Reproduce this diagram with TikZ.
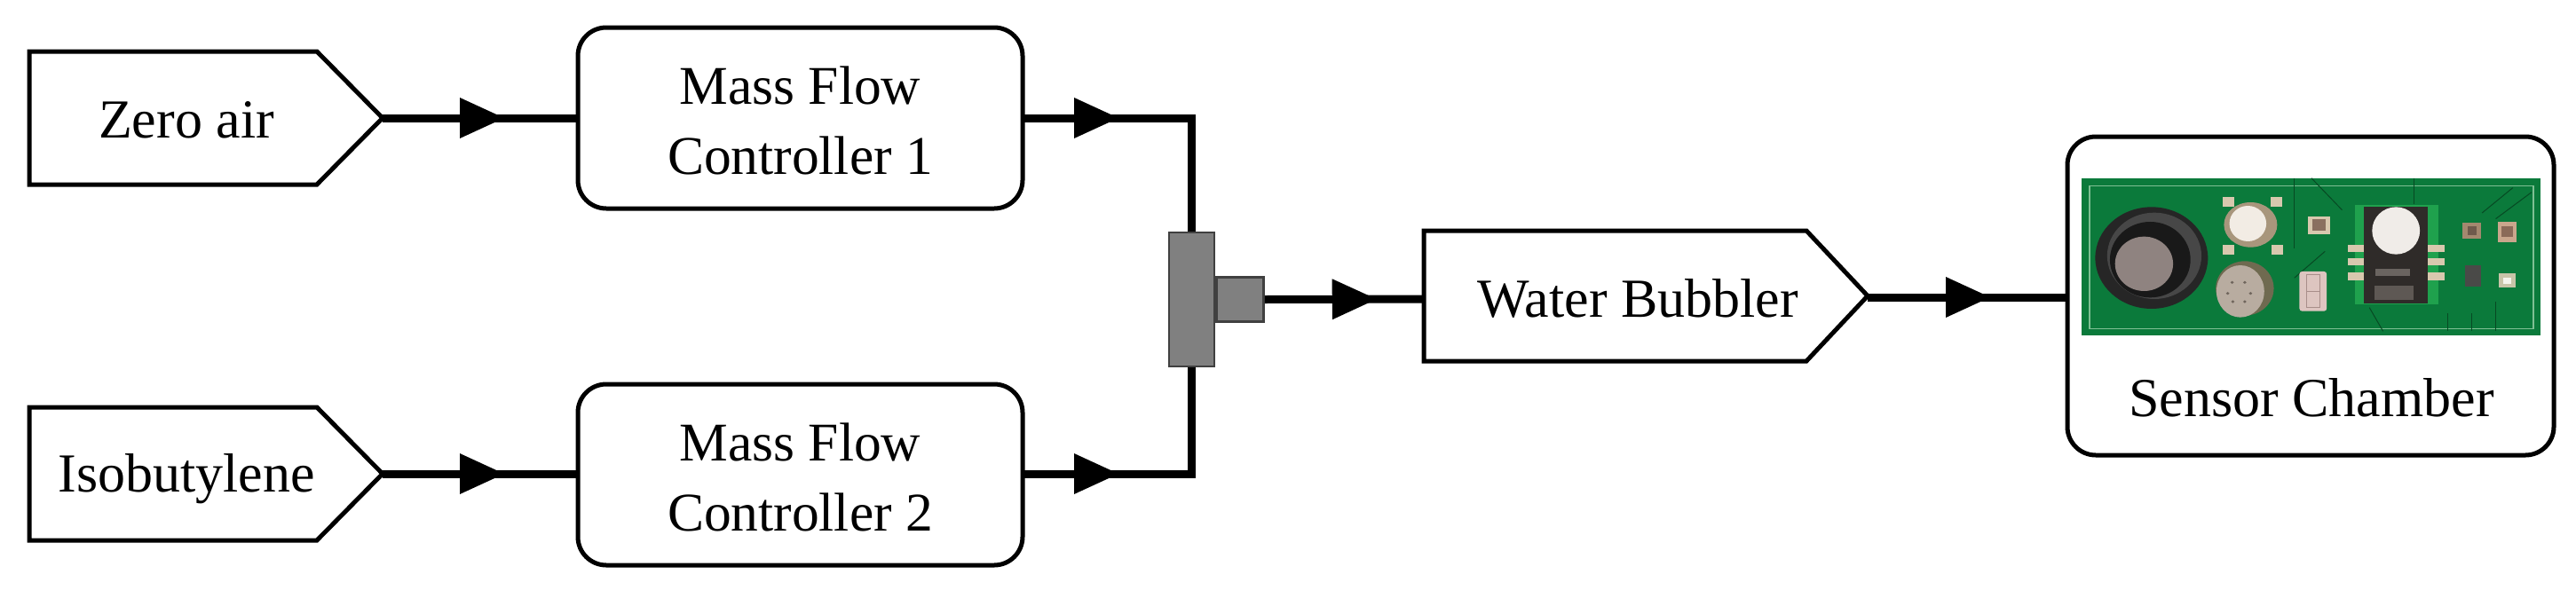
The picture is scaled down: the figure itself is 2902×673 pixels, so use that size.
\documentclass[tikz,border=0pt]{standalone}
\usepackage{fontspec}
\setmainfont{Liberation Serif}
\usetikzlibrary{decorations.markings,calc}
\tikzset{
  lbl/.style={font=\fontsize{62}{78}\selectfont,align=center,inner sep=0pt},
  shapeline/.style={draw=black,line width=5pt,fill=white,line join=miter},
  ctrl/.style={shapeline,rounded corners=32pt,minimum width=501pt,minimum height=204pt,inner sep=0pt,align=center},
  ctrltext/.style={font=\fontsize{61.5}{79}\selectfont,align=center,inner sep=0pt},
  chamber/.style={shapeline,rounded corners=32pt,minimum width=548pt,minimum height=359pt,inner sep=0pt},
  junction/.style={draw=black!75,line width=2.5pt,fill=black!50,inner sep=0pt},
  pipe/.style={draw=black,line width=9pt},
  flowmark/.style={decoration={markings,mark=at position #1 with {\fill[black] (0pt,-23pt) -- (50pt,0pt) -- (0pt,23pt) -- cycle;}},postaction=decorate}
}
\definecolor{pcb}{HTML}{0B7A3B}
\definecolor{pcbline}{HTML}{7FBF93}
\definecolor{pad}{HTML}{D8C8AE}
\definecolor{cgrey}{HTML}{8F8380}
\definecolor{canrim}{HTML}{A8967C}
\definecolor{canface}{HTML}{F2ECE4}
\definecolor{lowrim}{HTML}{6F6A50}
\definecolor{lowface}{HTML}{B8ACA0}
\definecolor{lowdot}{HTML}{6F655C}
\definecolor{sqbrown}{HTML}{8A7060}
\definecolor{plug}{HTML}{DDC5C0}
\definecolor{plugline}{HTML}{A88E8A}
\definecolor{chipgreen}{HTML}{1FA14D}
\definecolor{chipdark}{HTML}{2F2B29}
\definecolor{chipwhite}{HTML}{F0ECE8}
\definecolor{chipmarka}{HTML}{6A6460}
\definecolor{chipmarkb}{HTML}{5E5854}
\definecolor{ra}{HTML}{A4886F}
\definecolor{rb}{HTML}{6F5A4C}
\definecolor{rc}{HTML}{C9A68C}
\definecolor{rd}{HTML}{8A6A58}
\definecolor{re}{HTML}{4A4A48}
\definecolor{rf}{HTML}{C8C4A8}
\definecolor{rg}{HTML}{F4F4EC}
\begin{document}
\begin{tikzpicture}[x=1pt,y=-1pt]
\useasboundingbox (0,0) rectangle (2902,673);
% nodes
\draw[shapeline] (33,58) -- (357,58) -- (431,133) -- (357,208) -- (33,208) -- cycle;
\node[lbl] (zero) at (210,135) {Zero air};
\coordinate (zerotip) at (431,133);
\draw[shapeline] (33,459) -- (357,459) -- (431,534) -- (357,609) -- (33,609) -- cycle;
\node[lbl] (iso) at (210,540) {Isobutylene};
\coordinate (isotip) at (431,534);
\node[ctrl] (mfc1) at (901.5,133) {};
\node[ctrltext] (mfc1text) at (901.5,136) {Mass Flow\\Controller 1};
\node[ctrl] (mfc2) at (901.5,535) {};
\node[ctrltext] (mfc2text) at (901.5,538) {Mass Flow\\Controller 2};
\coordinate (mfc1out) at (1152,133);
\coordinate (mfc2out) at (1152,534);
\draw[shapeline] (1604,260) -- (2035,260) -- (2104,333.5) -- (2035,407) -- (1604,407) -- cycle;
\node[lbl] (water) at (1845,336) {Water Bubbler};
\coordinate (waterin) at (1604,337);
\coordinate (watertip) at (2104,335);
\node[chamber] (sensor) at (2603,333.5) {};
\coordinate (sensorin) at (2329,335);
\node[junction,minimum width=51pt,minimum height=151pt] (junc) at (1342.5,337.5) {};
\node[junction,minimum width=53pt,minimum height=50pt,anchor=west] (outlet) at (junc.east) {};
% connectors
\draw[pipe,flowmark=87pt] (zerotip) -- (mfc1.west |- zerotip);
\draw[pipe,flowmark=87pt] (isotip) -- (mfc2.west |- isotip);
\draw[pipe,flowmark=58pt] (mfc1out) -| (junc.north);
\draw[pipe,flowmark=58pt] (mfc2out) -| (junc.south);
\draw[pipe,flowmark=76pt] (outlet.east) -- (waterin);
\draw[pipe,flowmark=88pt] (watertip) -- (sensorin);
% board photograph, redrawn
\begin{scope}[shift={(2300,140)},x=0.3846pt,y=-0.3333pt]
\fill[pcb] (118,182) rectangle (1460,715);
\draw[pcbline,line width=1.5pt] (140,208) rectangle (1440,692);
\foreach \xa/\ya/\xb/\yb in {740/182/740/420,790/182/880/290,830/430/740/520,1090/182/1090/270,1380/215/1290/300,1435/230/1330/320,1190/640/1190/700,1260/640/1260/700,1330/600/1330/700,960/620/1000/700}
  \draw[black!40!pcb,line width=1pt] (\xa,\ya) -- (\xb,\yb);
% large black sensor
\fill[black!85] (322,452) ellipse [x radius=165,y radius=172];
\fill[black!72] (330,445) ellipse [x radius=138,y radius=146];
\fill[black!90] (318,458) ellipse [x radius=118,y radius=128];
\fill[cgrey] (300,472) ellipse [x radius=85,y radius=92];
% metal can with pads
\foreach \px/\py in {548/262,688/262,548/425,690/425}
  \fill[pad] (\px-17,\py-17) rectangle (\px+17,\py+17);
\fill[canrim] (612,340) ellipse [x radius=78,y radius=76];
\fill[canface] (604,336) ellipse [x radius=54,y radius=60];
% lower can
\fill[lowrim] (595,555) ellipse [x radius=85,y radius=92];
\fill[lowface] (582,565) ellipse [x radius=70,y radius=88];
\foreach \px/\py in {558/535,595/535,545/572,612/572,560/600,595/600}
  \fill[lowdot] (\px,\py) ellipse [x radius=5,y radius=5];
% small parts
\fill[pad] (780,312) rectangle (845,372);
\fill[sqbrown] (793,322) rectangle (832,360);
\fill[plug,rounded corners=3pt] (755,498) rectangle (835,632);
\draw[plugline,line width=1pt] (775,510) rectangle (815,620);
\draw[plugline,line width=1pt] (775,565) -- (815,565);
% big chip
\fill[chipgreen] (918,272) rectangle (1162,608);
\foreach \py in {420,465,515}{
  \fill[pad] (898,\py-13) rectangle (945,\py+13);
  \fill[pad] (1130,\py-13) rectangle (1180,\py+13);
}
\fill[chipdark] (945,278) rectangle (1130,605);
\fill[chipwhite] (1038,360) ellipse [x radius=70,y radius=80];
\fill[chipmarka] (978,488) rectangle (1078,514);
\fill[chipmarkb] (975,545) rectangle (1090,595);
% right hand parts
\fill[ra] (1232,332) rectangle (1288,388);
\fill[rb] (1248,345) rectangle (1274,375);
\fill[rc] (1336,330) rectangle (1390,398);
\fill[rd] (1346,346) rectangle (1380,380);
\fill[re] (1240,478) rectangle (1288,550);
\fill[rf] (1340,505) rectangle (1388,552);
\fill[rg] (1352,518) rectangle (1376,540);
\end{scope}
\node[lbl] (chamberlabel) at (2604,448) {Sensor Chamber};
\end{tikzpicture}
\end{document}
